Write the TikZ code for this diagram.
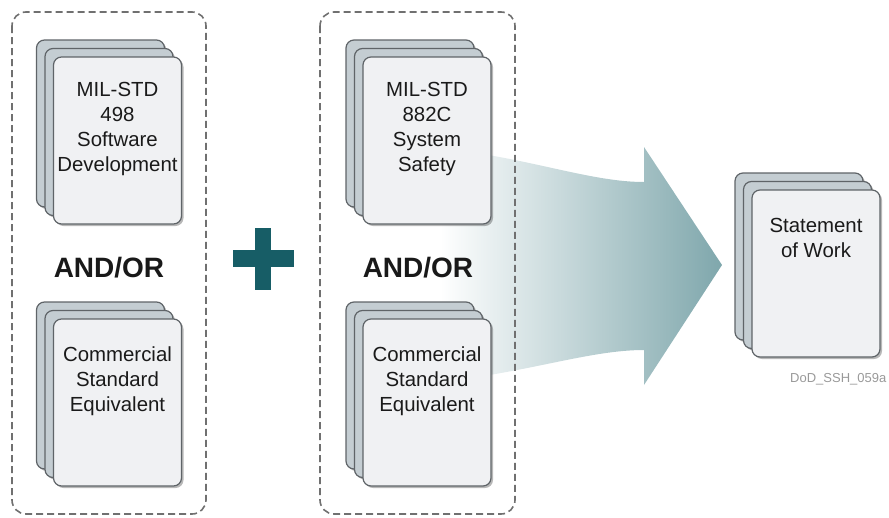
\documentclass[tikz,border=0pt]{standalone}
\usepackage{fontspec}
\setmainfont{Liberation Sans}
\usetikzlibrary{shadows,calc}
\definecolor{pageback}{HTML}{C4CDD2}
\definecolor{pagefront}{HTML}{F0F1F3}
\definecolor{pageedge}{HTML}{5F6468}
\definecolor{dashgray}{HTML}{707070}
\definecolor{plusteal}{HTML}{175D66}
\definecolor{arrowleft}{HTML}{FFFFFF}
\definecolor{arrowright}{HTML}{7FA7AC}
\definecolor{doctextcol}{HTML}{1A1A1A}
\tikzset{
  page/.style={draw=pageedge, line width=1.2pt, rounded corners=8pt,
    minimum width=128pt, minimum height=167pt, inner sep=0pt,
    drop shadow={shadow xshift=2pt, shadow yshift=-2pt, opacity=0.28, fill=black}},
  backpage/.style={page, fill=pageback},
  frontpage/.style={page, fill=pagefront},
  doctext/.style={font=\fontsize{20.4}{25}\selectfont, align=center, inner sep=0pt,
    anchor=north, text=doctextcol},
  groupbox/.style={draw=dashgray, line width=1.6pt, dash pattern=on 7pt off 4pt,
    rounded corners=14pt},
  andor/.style={font=\bfseries\fontsize{28}{30}\selectfont, inner sep=0pt, anchor=base,
    text=black!90},
  bigarrow/.style={left color=arrowleft, right color=arrowright},
}
\newcommand\mystack[3]{%
  \node[backpage] (#1c) at (#2-17,#3-17) {};
  \node[backpage] (#1b) at (#2-8.5,#3-8.5) {};
  \node[frontpage] (#1) at (#2,#3) {};}
\begin{document}
\begin{tikzpicture}[x=1pt,y=-1pt]
\useasboundingbox (0,0) rectangle (889,517);
% big arrow
\shade[bigarrow] (440,148) .. controls (530,158) and (590,182) .. (644,182)
  -- (644,147) -- (722,265) -- (644,385) -- (644,350)
  .. controls (590,350) and (530,372) .. (440,382) -- cycle;
% group boxes
\draw[groupbox] (12,12) rectangle (206,514);
\draw[groupbox] (320,12) rectangle (515,514);
% plus sign
\fill[plusteal] (233,250) rectangle (294,267);
\fill[plusteal] (255,228) rectangle (271,290);
% document stacks
\mystack{A}{117.5}{140.5}
\mystack{B}{117.5}{402.5}
\mystack{C}{427}{140.5}
\mystack{D}{427}{402.5}
\mystack{E}{816}{273.5}
\node[doctext] (tA) at ($(A.north)+(0,25.5)$) {MIL-STD\\498\\Software\\Development};
\node[doctext] (tB) at ($(B.north)+(0,28.5)$) {Commercial\\Standard\\Equivalent};
\node[doctext] (tC) at ($(C.north)+(0,25.5)$) {MIL-STD\\882C\\System\\Safety};
\node[doctext] (tD) at ($(D.north)+(0,28.5)$) {Commercial\\Standard\\Equivalent};
\node[doctext] (tE) at ($(E.north)+(0,28.5)$) {Statement\\of Work};
% AND/OR labels
\node[andor] (ao1) at (109,277) {AND/OR};
\node[andor] (ao2) at (418,277) {AND/OR};
% figure id
\node[anchor=west, inner sep=0pt, font=\fontsize{13}{15}\selectfont, text=black!40] (fid) at (790,379) {DoD\_SSH\_059a};
\end{tikzpicture}
\end{document}
